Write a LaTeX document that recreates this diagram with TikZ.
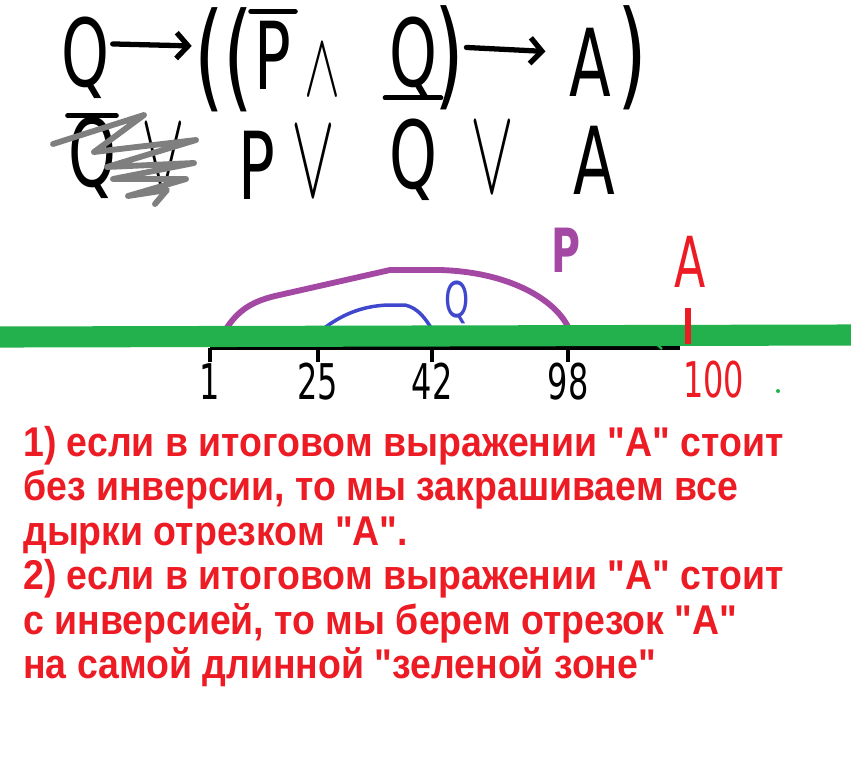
\documentclass[tikz,border=0pt]{standalone}
\usepackage{fontspec}
\usepackage{tikz}
\usetikzlibrary{arrows.meta}
\setmainfont{Liberation Sans}
\newfontfamily\handfont[FakeStretch=0.65]{DejaVu Sans}
\newfontfamily\notefont[FakeStretch=0.9]{Liberation Sans}
\definecolor{pred}{RGB}{237,28,36}
\definecolor{pgreen}{RGB}{34,177,76}
\definecolor{ppurple}{RGB}{163,73,164}
\definecolor{pblue}{RGB}{63,72,204}
\definecolor{pgrey}{RGB}{127,127,127}
\newcommand{\handand}{\scalebox{4.6}[7.8]{$\wedge$}}
\newcommand{\handor}{\scalebox{5.6}[10.5]{$\vee$}}
\tikzset{
	hand/.style={font=\handfont\fontsize{80}{80}\selectfont, inner sep=0pt},
	bighand/.style={font=\handfont\fontsize{100}{100}\selectfont, inner sep=0pt},
	handop/.style={inner sep=0pt},
	numlab/.style={font=\handfont\fontsize{42}{42}\selectfont, inner sep=0pt},
	harrow/.style={line width=4.5pt, line cap=round, -{Straight Barb[length=10pt,width=22pt,line width=4.5pt]}},
	hbar/.style={line width=4.5pt, line cap=round},
	note/.style={font=\notefont\bfseries\fontsize{35.5}{38}\selectfont, text=pred, align=left, inner sep=0pt}
}

\begin{document}
\begin{tikzpicture}[x=0.03cm, y=-0.03cm]
				\useasboundingbox[fill=white] (0,0) rectangle (851,771);
				\node[hand] (q1) at (85,58) {Q};
				\node[bighand] (par1) at (224,60) {((};
				\node[hand] (pneg) at (273,55) {P};
				\node[handop] (land) at (322,70) {\handand};
				\node[hand] (q2) at (413,58) {Q};
				\node[bighand] (par2) at (449,58) {)};
				\node[hand] (a1) at (590,62) {A};
				\node[bighand] (par3) at (632,58) {)};
				\draw[harrow] ([xshift=3pt,yshift=12pt]q1.east) -- ([xshift=-2pt,yshift=12pt]par1.west);
				\draw[harrow] ([xshift=2pt,yshift=9pt]par2.east) -- ([xshift=-20pt,yshift=9pt]a1.west);
				\draw[hbar] ([xshift=-3pt,yshift=8pt]pneg.north west) -- ([xshift=3pt,yshift=8pt]pneg.north east);
				\node[hand] (nq1) at (92,158) {Q};
				\node[handop] (or1) at (163,160) {\handor};
				\node[hand] (p2) at (257,165) {P};
				\node[handop] (or2) at (313,162) {\handor};
				\node[hand] (nq2) at (413,160) {Q};
				\node[handop] (or3) at (492,158) {\handor};
				\node[hand] (a2) at (594,160) {A};
				\draw[hbar] ([yshift=1pt]nq1.north west) -- ([yshift=1pt]nq1.north east);
				\draw[hbar] ([xshift=-3pt,yshift=18pt]nq2.north west) -- ([xshift=3pt,yshift=18pt]nq2.north east);
				\draw[pgrey, line width=5pt, line join=round, line cap=round] (53,144) -- (144,115) -- (94,152) -- (196,140) -- (107,167) -- (194,163) -- (113,179) -- (186,179) -- (128,196) -- (167,190) -- (155,204);
				\coordinate (t1) at (210,348);
				\coordinate (t25) at (318,348);
				\coordinate (t42) at (432,348);
				\coordinate (t98) at (568,348);
				\coordinate (t100) at (688,348);
				\coordinate (lend) at (680,348);
				\draw[ppurple, line width=5pt] ([xshift=10pt,yshift=10pt]t1) .. controls (235,312) and (250,302) .. (275,296) -- (390,270) -- (440,270) .. controls (510,272) and (555,300) .. ([yshift=18pt]t98);
				\draw[pblue, line width=3pt] ([xshift=4pt,yshift=16pt]t25) .. controls (340,316) and (360,306) .. (388,305) -- (405,305) .. controls (418,308) and (425,318) .. ([yshift=16pt]t42);
				\draw[line width=3.5pt] (t1) -- (lend);
				\draw[pgreen, line width=18pt] (0,337) -- (851,335);
				\draw[pgreen, line width=2pt] (652,340) -- (662,349);
				\foreach \t in {t1,t25,t42,t98}
					\draw[line width=3pt] (\t) -- ++(0,14);
				\draw[pred, line width=4.5pt] ([yshift=34pt]t100) -- ([yshift=3pt]t100);
				\foreach \t/\v in {t1/1,t25/25,t42/42,t98/98}
					\node[numlab, below=13pt] (lab\v) at (\t) {\v};
				\node[numlab, text=pred, below=11pt] (lab100) at ([xshift=22pt]t100) {100};
				\fill[pgreen] (778,391) circle (2);
				\node[font=\handfont\bfseries\fontsize{52}{52}\selectfont, text=ppurple, inner sep=0pt] (plab) at (566,250) {P};
				\node[font=\handfont\fontsize{42}{42}\selectfont, text=pblue, inner sep=0pt] (qlab) at (457,302) {Q};
				\node[font=\handfont\fontsize{60}{60}\selectfont, text=pred, inner sep=0pt] (alab) at (690,262) {A};
				\node[note, anchor=north west] (rules) at (23,426) {1) если в итоговом выражении "A" стоит\\без инверсии, то мы закрашиваем все\\дырки отрезком "A".\\2) если в итоговом выражении "A" стоит\\с инверсией, то мы берем отрезок "A"\\на самой длинной "зеленой зоне"};
			\end{tikzpicture}
\end{document}
